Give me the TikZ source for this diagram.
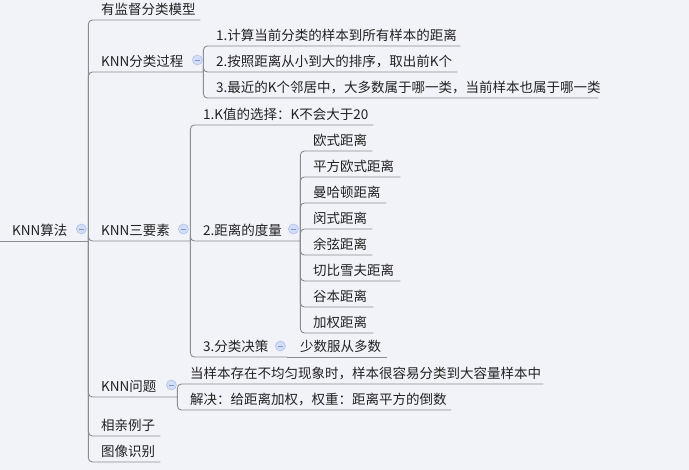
\documentclass[tikz,border=0pt]{standalone}
\usepackage{fontspec}
\setmainfont{Noto Sans CJK SC}
\usetikzlibrary{calc}
\definecolor{bg}{HTML}{F2F3F9}
\definecolor{ln}{HTML}{8C8C8C}
\definecolor{tx}{HTML}{222222}
\definecolor{cfill}{HTML}{D3DEF6}
\definecolor{cdraw}{HTML}{AFC3EC}
\definecolor{cminus}{HTML}{7F9AD0}
\begin{document}
\begin{tikzpicture}[x=1pt,y=-1pt,
  topic/.style={anchor=south west, inner xsep=0pt, inner ysep=0pt, text height=18.5pt, text depth=5.5pt, align=left, font=\fontsize{13.5}{16}\selectfont, text=tx, execute at begin node={\hspace*{13pt}}},
  conn/.style={draw=ln, line width=0.9pt, rounded corners=4pt},
  fold/.style={circle, fill=cfill, draw=cdraw, line width=0.6pt, minimum size=10pt, inner sep=0pt,
    path picture={\draw[cminus, line width=0.9pt] ($(path picture bounding box.center)+(-2.5,0)$) -- ($(path picture bounding box.center)+(2.5,0)$);}}]
\fill[bg] (0,0) rectangle (689,470);
\useasboundingbox (0,0) rectangle (689,470);

% root
\node[topic, text width=88pt, execute at begin node={\hspace*{-1pt}}] (root) at (0,241) {KNN算法};
% level 1
\node[topic, text width=112pt] (sup) at (88,20) {有监督分类模型};
\node[topic, text width=115pt] (proc) at (88,72) {KNN分类过程};
\node[topic, text width=102pt] (three) at (88,241) {KNN三要素};
\node[topic, text width=89pt] (prob) at (88,397) {KNN问题};
\node[topic, text width=72pt] (date) at (88,436) {相亲例子};
\node[topic, text width=72pt] (img) at (88,462) {图像识别};
% process
\node[topic, text width=257pt] (p1) at (203,46) {1.计算当前分类的样本到所有样本的距离};
\node[topic, text width=254pt] (p2) at (203,72) {2.按照距离从小到大的排序，取出前K个};
\node[topic, text width=395pt] (p3) at (203,98) {3.最近的K个邻居中，大多数属于哪一类，当前样本也属于哪一类};
% three elements
\node[topic, text width=183pt] (kval) at (190,125) {1.K值的选择：K不会大于20};
\node[topic, text width=110pt] (dist) at (190,241) {2.距离的度量};
\node[topic, text width=97pt] (dec) at (190,357) {3.分类决策};
% distances
\node[topic, text width=72pt] (d1) at (300,151) {欧式距离};
\node[topic, text width=100pt] (d2) at (300,177) {平方欧式距离};
\node[topic, text width=86pt] (d3) at (300,203) {曼哈顿距离};
\node[topic, text width=72pt] (d4) at (300,229) {闵式距离};
\node[topic, text width=72pt] (d5) at (300,255) {余弦距离};
\node[topic, text width=100pt] (d6) at (300,281) {切比雪夫距离};
\node[topic, text width=73pt] (d7) at (300,307) {谷本距离};
\node[topic, text width=73pt] (d8) at (300,333) {加权距离};
% decision
\node[topic, text width=100pt] (dec1) at (287,357) {少数服从多数};
% problems
\node[topic, text width=366pt] (q1) at (177,384) {当样本存在不均匀现象时，样本很容易分类到大容量样本中};
\node[topic, text width=274pt] (q2) at (177,410) {解决：给距离加权，权重：距离平方的倒数};

% connectors
\draw[conn] (root.south west) -- (root.south east);
\foreach \c in {sup,proc,three,prob,date,img} \draw[conn] (root.south east) |- (\c.south east);
\foreach \c in {p1,p2,p3} \draw[conn] (proc.south east) |- (\c.south east);
\foreach \c in {kval,dist,dec} \draw[conn] (three.south east) |- (\c.south east);
\foreach \c in {d1,d2,d3,d4,d5,d6,d7,d8} \draw[conn] (dist.south east) |- (\c.south east);
\draw[conn] (dec.south east) -- (dec1.south east);
\foreach \c in {q1,q2} \draw[conn] (prob.south east) |- (\c.south east);

% fold markers
\node[fold] (f-root) at ($(root.south east)+(-7,-12)$) {};
\node[fold] (f-proc) at ($(proc.south east)+(-6,-12)$) {};
\node[fold] (f-three) at ($(three.south east)+(-7,-12)$) {};
\node[fold] (f-dist) at ($(dist.south east)+(-7,-12)$) {};
\node[fold] (f-dec) at ($(dec.south east)+(-7,-11)$) {};
\node[fold] (f-prob) at ($(prob.south east)+(-6,-12)$) {};
\end{tikzpicture}
\end{document}
